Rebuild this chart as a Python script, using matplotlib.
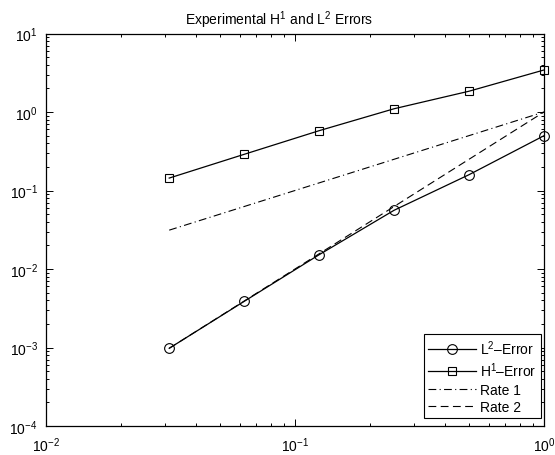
import numpy as np
import matplotlib
matplotlib.use("Agg")
import matplotlib.pyplot as plt
from matplotlib.ticker import LogLocator, NullFormatter

plt.rcParams['font.family'] = ['Liberation Sans', 'DejaVu Sans']
plt.rcParams['mathtext.fontset'] = 'custom'
plt.rcParams['mathtext.rm'] = 'Liberation Sans'
plt.rcParams['mathtext.it'] = 'Liberation Sans:italic'
plt.rcParams['mathtext.bf'] = 'Liberation Sans:bold'

# Data
h = [1/32, 1/16, 1/8, 1/4, 1/2, 1.0]
l2_error = [0.000977, 0.00387, 0.0152, 0.056, 0.159, 0.499]
h1_error = [0.144, 0.289, 0.578, 1.10, 1.84, 3.43]
rate1 = [1/32, 1/16, 1/8, 1/4, 1/2, 1.0]
rate2 = [1/1024, 1/256, 1/64, 1/16, 1/4, 1.0]

title = "Experimental H$^1$ and L$^2$ Errors"
labels = ["L$^2$\u2013Error", "H$^1$\u2013Error", "Rate 1", "Rate 2"]

fig = plt.figure(figsize=(5.55, 4.56), dpi=100)
ax = fig.add_axes([46/555, 1 - 427/456, (544-46)/555, (427-34.5)/456])

ax.loglog(h, l2_error, color='black', lw=0.9, marker='o', markersize=7,
          markerfacecolor='none', markeredgewidth=0.8, label=labels[0], clip_on=False, zorder=3)
ax.loglog(h, h1_error, color='black', lw=0.9, marker='s', markersize=5.5,
          markerfacecolor='none', markeredgewidth=0.8, label=labels[1], clip_on=False, zorder=3)
ax.loglog(h, rate1, color='black', lw=0.8, linestyle=(0, (7, 3, 1, 3)), label=labels[2])
ax.loglog(h, rate2, color='black', lw=0.8, linestyle=(0, (7, 4)), label=labels[3])

ax.set_xlim(1e-2, 1e0)
ax.set_ylim(1e-4, 1e1)
ax.set_title(title, fontsize=10, pad=7, x=(279 - 46) / (544 - 46))

ax.xaxis.set_major_locator(LogLocator(base=10, numticks=10))
ax.yaxis.set_major_locator(LogLocator(base=10, numticks=10))
ax.xaxis.set_minor_locator(LogLocator(base=10, subs=np.arange(2, 10), numticks=20))
ax.yaxis.set_minor_locator(LogLocator(base=10, subs=np.arange(2, 10), numticks=20))
ax.xaxis.set_minor_formatter(NullFormatter())
ax.yaxis.set_minor_formatter(NullFormatter())

ax.tick_params(which='both', direction='in', top=True, right=True, labelsize=10, width=0.7)
ax.tick_params(which='major', length=5)
ax.tick_params(which='minor', length=2.5)
ax.tick_params(axis='x', pad=7)
ax.tick_params(axis='y', pad=6)
for s in ax.spines.values():
    s.set_linewidth(0.9)

leg = ax.legend(loc='lower right', bbox_to_anchor=(0.994, 0.02), borderaxespad=0,
                fontsize=10, frameon=True, fancybox=False, framealpha=1,
                edgecolor='black', handlelength=3.5, handletextpad=0.3,
                labelspacing=0.25, borderpad=0.3)
leg.get_frame().set_linewidth(0.8)

fig.savefig("out.png", dpi=100)
